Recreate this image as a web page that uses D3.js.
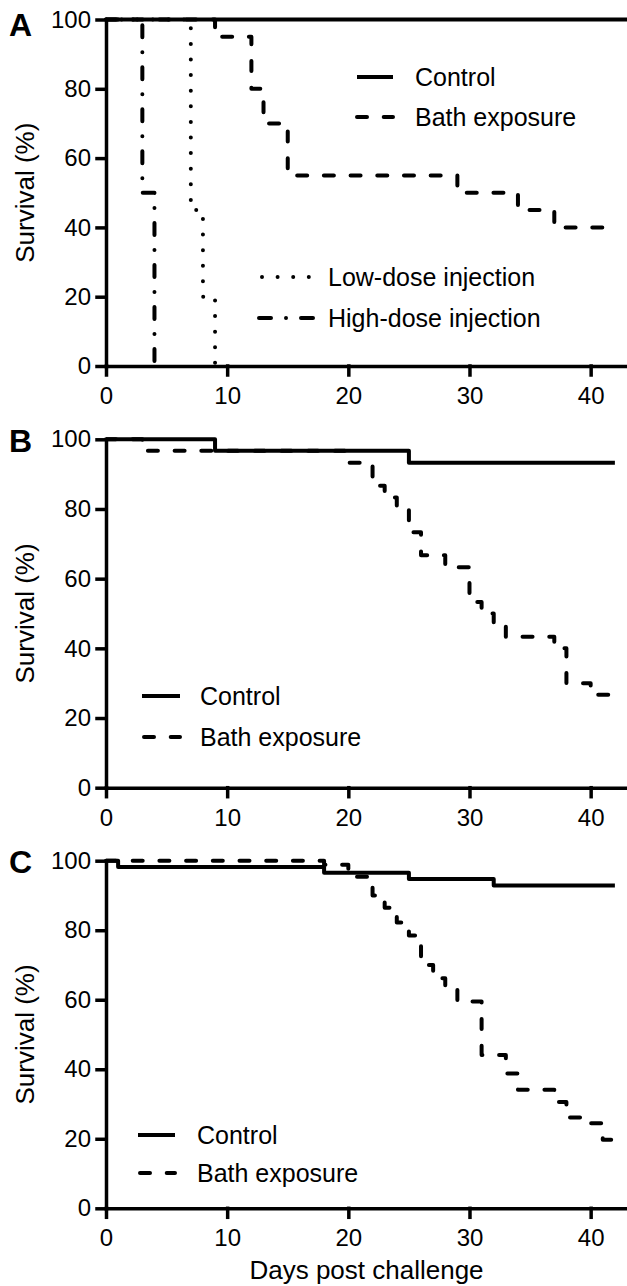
<!DOCTYPE html>
<meta charset="utf-8">
<head>
    <title>Survival after challenge</title>
</head>

<style>
  body {
    margin: 0;
    background: #fff;
  }

  text {
    font-family: "Liberation Sans", Arial, Helvetica, sans-serif;
    fill: #000;
  }

  .axis path,
  .axis line {
    fill: none;
    stroke: #000;
    stroke-width: 3.5px;
    stroke-linecap: square;
  }

  .axis text {
    font-size: 24px;
  }

  .curve {
    fill: none;
    stroke: #000;
    stroke-width: 4px;
    stroke-linejoin: round;
  }

  .axisLabel {
    font-size: 26px;
    text-anchor: middle;
  }

  .legendLabel {
    font-size: 25px;
  }

  .panelLetter {
    font-size: 32px;
    font-weight: bold;
  }
</style>
<body>
<script src="https://d3js.org/d3.v7.min.js"></script>

<script>
var width = 627,
    height = 1286,
    plotLeft = 106,
    plotRight = 627;

// ticks
var xTicks = [0, 10, 20, 30, 40];
var yTicks = [0, 20, 40, 60, 80, 100];

// panel A
var aControlDays = [0, 43],
    aControlSurv = [100, 100];
var aBathDays = [0, 9, 12, 13, 15, 29, 34, 37, 42],
    aBathSurv = [100, 95, 80, 70, 55, 50, 45, 40, 40];
var aLowDays = [0, 7, 8, 9],
    aLowSurv = [100, 45, 20, 0];
var aHighDays = [0, 3, 4],
    aHighSurv = [100, 50, 0];

// panel B
var bControlDays = [0, 9, 25, 42],
    bControlSurv = [100, 96.7, 93.3, 93.3];
var bBathDays = [0, 3, 20, 22, 23, 24, 25, 26, 28, 30, 31, 32, 33, 37, 38, 40, 42],
    bBathSurv = [100, 96.7, 93.3, 86.7, 83.3, 80, 73.3, 66.7, 63.3, 53.3, 50, 46.7, 43.3, 40, 30, 26.7, 26.7];

// panel C
var cControlDays = [0, 1, 18, 25, 32, 42],
    cControlSurv = [100, 98.2, 96.5, 94.7, 92.9, 92.9];
var cBathDays = [0, 18, 20, 22, 23, 24, 25, 26, 27, 28, 29, 31, 33, 34, 37, 38, 40, 41, 42],
    cBathSurv = [100, 98.8, 95.4, 90, 86.5, 82.2, 78.5, 70, 66.2, 63.8, 59.5, 44.1, 38.8, 34.1, 30.6, 26.1, 24.5, 19.7, 19.7];

var groupNames = {
  control: "Control",
  bath: "Bath exposure",
  low: "Low-dose injection",
  high: "High-dose injection"
};

// line styles
var dashes = {
  control: null,
  bath: "10,16.7",
  low: "0,15.6",
  high: "12,15,0,15"
};
var caps = { control: "butt", bath: "round", low: "round", high: "round" };

function zip(days, surv) {
  return days.map(function(d, i) { return { day: d, surv: surv[i] }; });
}

var panels = [
  { letter: "A", top: 19.5, bottom: 366, letterY: 36,
    series: [
      { key: "control", data: zip(aControlDays, aControlSurv) },
      { key: "bath", data: zip(aBathDays, aBathSurv) },
      { key: "low", data: zip(aLowDays, aLowSurv) },
      { key: "high", data: zip(aHighDays, aHighSurv) }
    ],
    legend: [
      { key: "control", x1: 357, x2: 393, tx: 415, y: 77 },
      { key: "bath", x1: 357, x2: 393, tx: 415, y: 117 },
      { key: "low", x1: 262, x2: 309, tx: 328, y: 277 },
      { key: "high", x1: 259, x2: 313, tx: 328, y: 318 }
    ] },
  { letter: "B", top: 439.3, bottom: 787.7, letterY: 452,
    series: [
      { key: "control", data: zip(bControlDays, bControlSurv) },
      { key: "bath", data: zip(bBathDays, bBathSurv) }
    ],
    legend: [
      { key: "control", x1: 142, x2: 180, tx: 200, y: 696 },
      { key: "bath", x1: 144, x2: 180, tx: 200, y: 737 }
    ] },
  { letter: "C", top: 860.7, bottom: 1208.3, letterY: 873,
    series: [
      { key: "control", data: zip(cControlDays, cControlSurv) },
      { key: "bath", data: zip(cBathDays, cBathSurv) }
    ],
    legend: [
      { key: "control", x1: 138, x2: 175, tx: 197, y: 1135 },
      { key: "bath", x1: 140, x2: 175, tx: 197, y: 1173 }
    ] }
];

var x = d3.scaleLinear().domain([0, 43]).range([plotLeft, plotRight]);

var svg = d3.select("body").append("svg")
    .attr("width", width)
    .attr("height", height);

panels.forEach(function(p, pi) {
  var y = d3.scaleLinear().domain([0, 100]).range([p.bottom, p.top]);
  var g = svg.append("g");

  // x-axis
  g.append("g")
      .attr("class", "axis")
      .attr("transform", "translate(0," + p.bottom + ")")
      .call(d3.axisBottom(x).tickValues(xTicks).tickSize(9).tickSizeOuter(0).tickPadding(12));

  // y-axis
  g.append("g")
      .attr("class", "axis")
      .attr("transform", "translate(" + plotLeft + ",0)")
      .call(d3.axisLeft(y).tickValues(yTicks).tickSize(9).tickSizeOuter(0).tickPadding(6));

  // y-axis label
  g.append("text")
      .attr("class", "axisLabel")
      .attr("transform", "translate(34," + ((p.top + p.bottom) / 2) + ") rotate(-90)")
      .text("Survival (%)");

  // panel letter
  g.append("text")
      .attr("class", "panelLetter")
      .attr("x", 9)
      .attr("y", p.letterY)
      .text(p.letter);

  var line = d3.line()
      .curve(d3.curveStepAfter)
      .x(function(d) { return x(d.day); })
      .y(function(d) { return y(d.surv); });

  g.selectAll(".curve")
    .data(p.series)
    .enter().append("path")
      .attr("class", "curve")
      .attr("d", function(s) { return line(s.data); })
      .attr("stroke-dasharray", function(s) { return dashes[s.key]; })
      .attr("stroke-linecap", function(s) { return caps[s.key]; });

  // legend
  var lg = g.selectAll(".legendItem")
    .data(p.legend)
    .enter().append("g")
      .attr("class", "legendItem");

  lg.append("line")
      .attr("class", "curve")
      .attr("x1", function(d) { return d.x1; })
      .attr("x2", function(d) { return d.x2; })
      .attr("y1", function(d) { return d.y; })
      .attr("y2", function(d) { return d.y; })
      .attr("stroke-dasharray", function(d) { return dashes[d.key]; })
      .attr("stroke-linecap", function(d) { return caps[d.key]; });

  lg.append("text")
      .attr("class", "legendLabel")
      .attr("x", function(d) { return d.tx; })
      .attr("y", function(d) { return d.y + 9; })
      .text(function(d) { return groupNames[d.key]; });

  // x-axis label, bottom panel only
  if (pi === panels.length - 1) {
    g.append("text")
        .attr("class", "axisLabel")
        .attr("x", (plotLeft + plotRight) / 2)
        .attr("y", 1279)
        .text("Days post challenge");
  }
});
</script>
</body>
